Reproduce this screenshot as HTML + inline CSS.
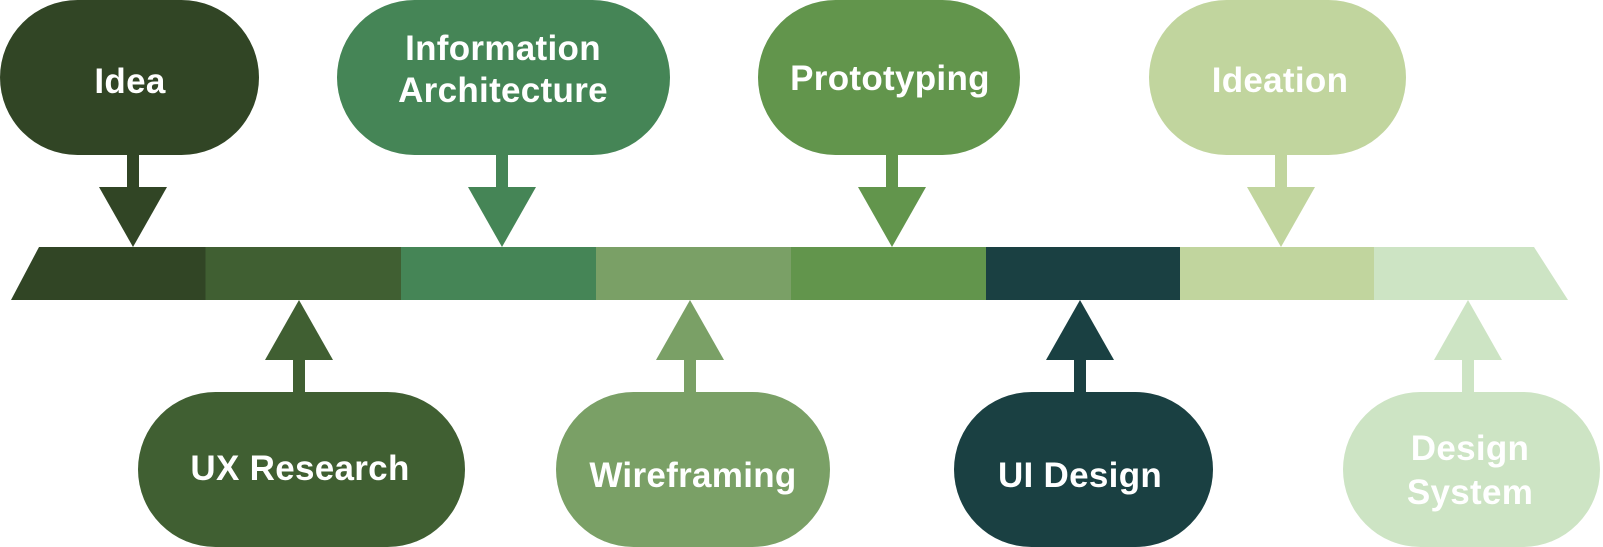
<!DOCTYPE html>
<html><head><meta charset="utf-8"><style>
html,body{margin:0;padding:0;background:#fff;}
svg{display:block}
text{font-family:"Liberation Sans",sans-serif;font-weight:bold;font-size:35px;fill:#fff;letter-spacing:0.3px;text-anchor:middle}
</style></head><body>
<svg width="1603" height="547" viewBox="0 0 1603 547" xmlns="http://www.w3.org/2000/svg">
<polygon points="39,247 206,247 206,300 11,300" fill="#314525"/>
<rect x="205.5" y="247" width="196" height="53" fill="#405f32"/>
<rect x="401" y="247" width="195.5" height="53" fill="#458556"/>
<rect x="596" y="247" width="195.5" height="53" fill="#7aa066"/>
<rect x="791" y="247" width="195.5" height="53" fill="#62954c"/>
<rect x="986" y="247" width="194.5" height="53" fill="#1a4042"/>
<rect x="1180" y="247" width="194.5" height="53" fill="#c1d59e"/>
<polygon points="1374,247 1534,247 1568,300 1374,300" fill="#cde4c4"/>

<g fill="#314525">
<rect x="0" y="0" width="259" height="155" rx="77.5"/>
<rect x="127" y="154" width="12" height="34"/>
<polygon points="99,187 167,187 133,247"/>
</g>
<text x="130" y="93">Idea</text>

<g fill="#458556">
<rect x="337" y="0" width="333" height="155" rx="77.5"/>
<rect x="496" y="154" width="12" height="34"/>
<polygon points="468,187 536,187 502,247"/>
</g>
<text x="503" y="60">Information</text>
<text x="503" y="102">Architecture</text>

<g fill="#62954c">
<rect x="758" y="0" width="262" height="155" rx="77.5"/>
<rect x="886" y="154" width="12" height="34"/>
<polygon points="858,187 926,187 892,247"/>
</g>
<text x="890" y="90">Prototyping</text>

<g fill="#c1d59e">
<rect x="1149" y="0" width="257" height="155" rx="77.5"/>
<rect x="1275" y="154" width="12" height="34"/>
<polygon points="1247,187 1315,187 1281,247"/>
</g>
<text x="1280" y="92">Ideation</text>

<g fill="#405f32">
<rect x="138" y="392" width="327" height="155" rx="77.5"/>
<rect x="293" y="359" width="12" height="34"/>
<polygon points="265,360 333,360 299,300"/>
</g>
<text x="300" y="480">UX Research</text>

<g fill="#7aa066">
<rect x="556" y="392" width="274" height="155" rx="77.5"/>
<rect x="684" y="359" width="12" height="34"/>
<polygon points="656,360 724,360 690,300"/>
</g>
<text x="693" y="487">Wireframing</text>

<g fill="#1a4042">
<rect x="954" y="392" width="259" height="155" rx="77.5"/>
<rect x="1074" y="359" width="12" height="34"/>
<polygon points="1046,360 1114,360 1080,300"/>
</g>
<text x="1080" y="487">UI Design</text>

<g fill="#cde4c4">
<rect x="1343" y="392" width="257" height="155" rx="77.5"/>
<rect x="1462" y="359" width="12" height="34"/>
<polygon points="1434,360 1502,360 1468,300"/>
</g>
<text x="1470" y="460">Design</text>
<text x="1470" y="504">System</text>
</svg>
</body></html>
